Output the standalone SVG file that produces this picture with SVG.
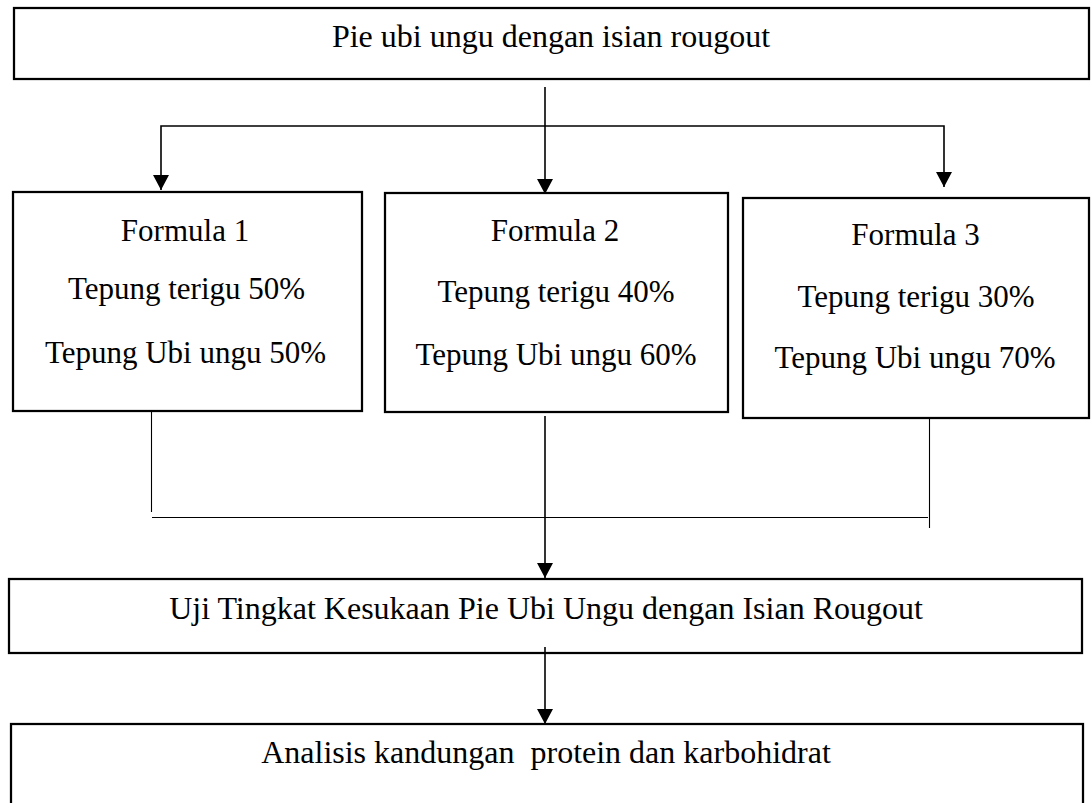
<svg xmlns="http://www.w3.org/2000/svg" width="1091" height="803" viewBox="0 0 1091 803">
  <style>
    .box { fill: #ffffff; stroke: #000000; stroke-width: 2.25; }
    .lbl { font-family: 'Liberation Serif', 'Times New Roman', serif; font-size: 31px; fill: #000000; text-anchor: middle; }
    .big { font-size: 32px; }
    .arr { fill: none; stroke: #000000; stroke-width: 1.6; }
    .thin { fill: none; stroke: #000000; stroke-width: 1.1; }
  </style>
  <defs>
    <marker id="ah" viewBox="0 0 15 16" refX="15" refY="8" markerWidth="15" markerHeight="16" markerUnits="userSpaceOnUse" orient="auto">
      <path d="M0,0 L15,8 L0,16 z" fill="#000000"/>
    </marker>
  </defs>
  <rect width="1091" height="803" fill="#ffffff"/>

  <g id="node-top">
    <rect class="box" x="14" y="8" width="1075" height="71"/>
    <text class="lbl big" x="551" y="47">Pie ubi ungu dengan isian rougout</text>
  </g>

  <g id="node-formula1">
    <rect class="box" x="13" y="192" width="349" height="219"/>
    <text class="lbl" x="185" y="241">Formula 1</text>
    <text class="lbl" x="186.5" y="299">Tepung terigu 50%</text>
    <text class="lbl" x="185.5" y="363">Tepung Ubi ungu 50%</text>
  </g>

  <g id="node-formula2">
    <rect class="box" x="385" y="193" width="343" height="219"/>
    <text class="lbl" x="555" y="241">Formula 2</text>
    <text class="lbl" x="556" y="302">Tepung terigu 40%</text>
    <text class="lbl" x="556" y="365">Tepung Ubi ungu 60%</text>
  </g>

  <g id="node-formula3">
    <rect class="box" x="743" y="198" width="346" height="220"/>
    <text class="lbl" x="915.5" y="245">Formula 3</text>
    <text class="lbl" x="916" y="307">Tepung terigu 30%</text>
    <text class="lbl" x="915" y="368">Tepung Ubi ungu 70%</text>
  </g>

  <g id="node-uji">
    <rect class="box" x="9" y="579" width="1073" height="74"/>
    <text class="lbl big" x="546" y="619">Uji Tingkat Kesukaan Pie Ubi Ungu dengan Isian Rougout</text>
  </g>

  <g id="node-analisis">
    <rect class="box" x="11" y="724" width="1072" height="96"/>
    <text class="lbl big" x="546" y="763" xml:space="preserve">Analisis kandungan  protein dan karbohidrat</text>
  </g>

  <g id="connectors">
    <path class="arr" d="M545,87 V194" marker-end="url(#ah)"/>
    <path class="arr" d="M545,126 H161 V190" marker-end="url(#ah)"/>
    <path class="arr" d="M545,126 H944 V187" marker-end="url(#ah)"/>
    <path class="thin" d="M151.5,412 V512"/>
    <path class="thin" d="M152,517.5 H928"/>
    <path class="thin" d="M929.5,419 V528"/>
    <path class="arr" d="M545,416 V578" marker-end="url(#ah)"/>
    <path class="arr" d="M545,647 V724" marker-end="url(#ah)"/>
  </g>
</svg>
